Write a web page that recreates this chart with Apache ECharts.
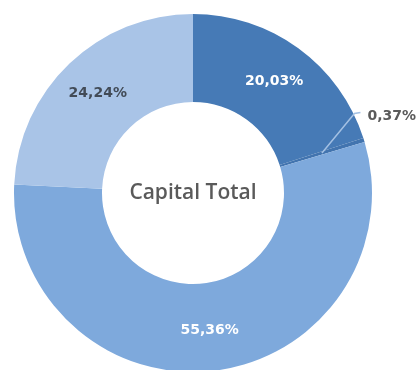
<!DOCTYPE html>
<html>
<head>
<meta charset="utf-8">
<script src="https://cdn.jsdelivr.net/npm/echarts@6/dist/echarts.min.js"></script>
<style>
  html, body { margin: 0; padding: 0; background: #ffffff; }
  #chart { width: 418px; height: 370px; }
</style>
</head>
<body>
<div id="chart"></div>
<script>
// Shareholding breakdown (percent of total capital)
const categories = ['Controlador', 'Ações em Tesouraria', 'Free Float', 'Outros'];
const shares = [20.03, 0.37, 55.36, 24.24];

// Styling
const sliceColors = ['#467ab6', '#4274af', '#7ea9dc', '#a9c4e7'];
const labelColors = ['#ffffff', '#5a5a5a', '#ffffff', '#424b57'];
const CX = 193, CY = 193, R_IN = 91, R_OUT = 179;
const FONT = 'DejaVu Sans';
const SMALL = 1; // slices below this share get an outside label

const fmt = v => v.toFixed(2).replace('.', ',') + '%';

const chart = echarts.init(document.getElementById('chart'), null, { renderer: 'canvas' });

// Mid-angle (radians, clockwise from 12 o'clock) of each slice, from the data
const total = shares.reduce((a, b) => a + b, 0);
const midAngles = [];
let acc = 0;
shares.forEach(v => { midAngles.push((acc + v / 2) / total * Math.PI * 2); acc += v; });

const polar = (ang, r) => [CX + Math.sin(ang) * r, CY - Math.cos(ang) * r];

const baseLabel = {
  formatter: p => fmt(p.value),
  fontFamily: FONT,
  fontWeight: 'bold',
  fontSize: 14
};

// Ring with the inside labels
const ringData = categories.map((name, i) => ({
  name,
  value: shares[i],
  itemStyle: { color: sliceColors[i] },
  label: { show: shares[i] >= SMALL, color: labelColors[i] }
}));

// Transparent overlay carrying the leader-line label of thin slices,
// so its line is drawn on top of the ring
const overlayData = categories.map((name, i) => ({
  name,
  value: shares[i],
  label: { show: shares[i] < SMALL, color: labelColors[i] },
  labelLine: { show: shares[i] < SMALL }
}));

chart.setOption({
  animation: false,
  graphic: [{
    type: 'text',
    x: CX,
    y: CY,
    style: {
      text: 'Capital Total',
      fill: '#5a5a5a',
      font: '600 21px "Open Sans"',
      textAlign: 'center',
      textVerticalAlign: 'middle'
    },
    z: 10
  }],
  series: [{
    type: 'pie',
    z: 2,
    center: [CX, CY],
    radius: [R_IN, R_OUT],
    startAngle: 90,
    clockwise: true,
    avoidLabelOverlap: false,
    itemStyle: { borderWidth: 0 },
    emphasis: { disabled: true },
    label: Object.assign({ position: 'inside' }, baseLabel),
    labelLine: { show: false },
    data: ringData
  }, {
    type: 'pie',
    z: 4,
    silent: true,
    center: [CX, CY],
    radius: [R_IN, R_OUT],
    startAngle: 90,
    clockwise: true,
    avoidLabelOverlap: false,
    itemStyle: { color: 'rgba(0,0,0,0)', borderWidth: 0 },
    emphasis: { disabled: true },
    label: Object.assign({ position: 'outside' }, baseLabel),
    labelLine: {
      length: 6,
      length2: 6,
      lineStyle: { color: '#a3c0e3', width: 1.5 }
    },
    // Leader line starts mid-ring and bends at the outer edge
    labelLayout: params => {
      const i = params.dataIndex;
      if (shares[i] >= SMALL) return {};
      const a = midAngles[i];
      const p0 = polar(a, (R_IN + R_OUT) / 2);
      const p1 = polar(a - 9 * Math.PI / 180, R_OUT + 1);
      const p2 = [p1[0] + 6, p1[1] - 1];
      return {
        x: p2[0] + 7,
        y: p2[1] + 4,
        align: 'left',
        verticalAlign: 'middle',
        labelLinePoints: [p0, p1, p2]
      };
    },
    data: overlayData
  }]
});
</script>
</body>
</html>
